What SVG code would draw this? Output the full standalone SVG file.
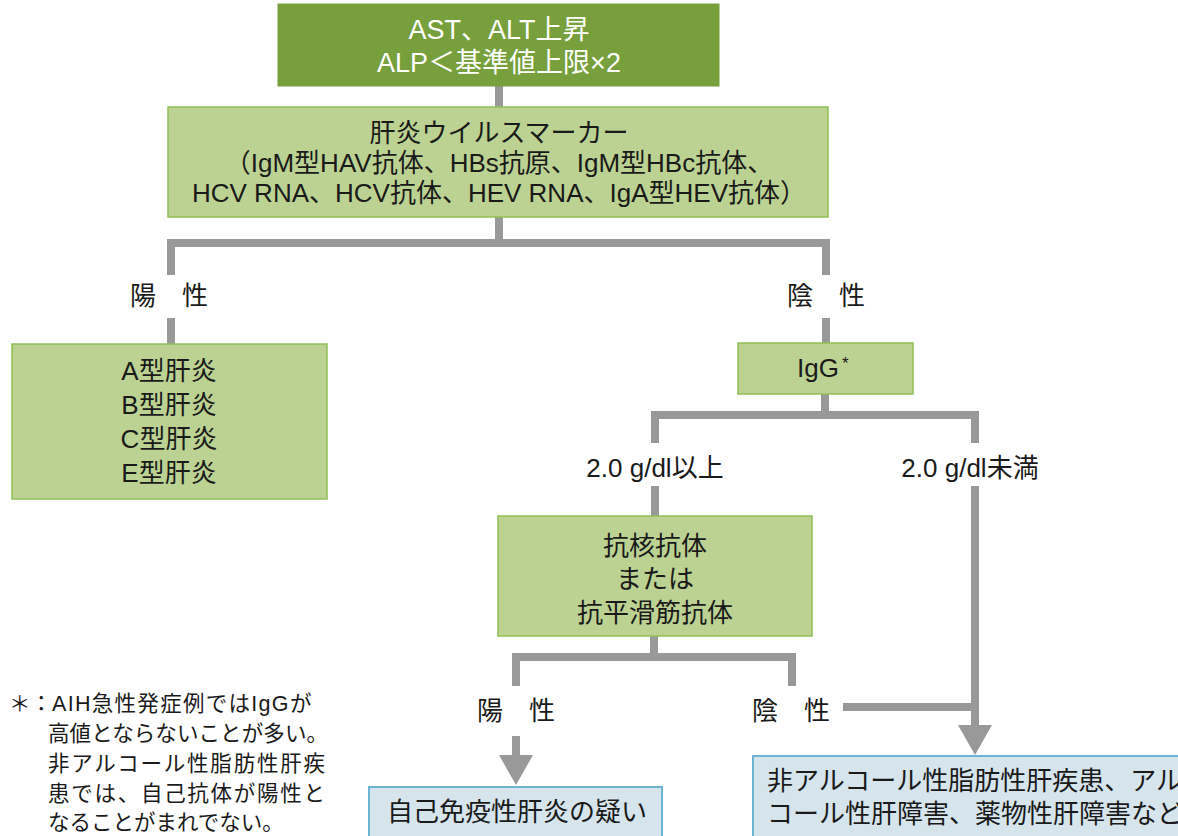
<svg xmlns="http://www.w3.org/2000/svg" width="1178" height="836" viewBox="0 0 1178 836">
<style>
text{font-family:"Liberation Sans","Noto Sans CJK JP",sans-serif;fill:#1a1a1a;font-size:26px}
.c{text-anchor:middle}
.w{fill:#ffffff;font-size:27px}
.dark{fill:#77A03C;stroke:#77A03C;stroke-width:1}
.lg{fill:#BCD293;stroke:#8FC056;stroke-width:1.5}
.lb{fill:#D6E4EC;stroke:#6DB3D3;stroke-width:2}
.ln{fill:none;stroke:#999999;stroke-width:8;stroke-linejoin:miter}
.fn{font-size:21.5px}
</style>
<defs>
<marker id="arr" markerUnits="userSpaceOnUse" markerWidth="30" markerHeight="34" viewBox="0 0 30 34" refX="0" refY="17" orient="auto">
<path d="M0,0 L30,17 L0,34 z" fill="#999999"/>
</marker>
</defs>
<rect width="1178" height="836" fill="#ffffff"/>
<g id="connectors">
<path class="ln" d="M499,86 V107"/>
<path class="ln" d="M499,217 V243"/>
<path class="ln" d="M171,275 V243 H826 V275"/>
<path class="ln" d="M171,318 V344"/>
<path class="ln" d="M826,318 V343"/>
<path class="ln" d="M825,394 V415"/>
<path class="ln" d="M655,443 V415 H975 V443"/>
<path class="ln" d="M655,486 V516"/>
<path class="ln" d="M975,486 V725" marker-end="url(#arr)"/>
<path class="ln" d="M654,636 V657"/>
<path class="ln" d="M516,686 V657 H792 V686"/>
<path class="ln" d="M516,736 V755" marker-end="url(#arr)"/>
<path class="ln" d="M843,707 H979"/>
<text class="c" x="169" y="305">陽　性</text>
<text class="c" x="826" y="305">陰　性</text>
<text class="c" x="655" y="477">2.0 g/dl以上</text>
<text class="c" x="970" y="477">2.0 g/dl未満</text>
<text class="c" x="516" y="720">陽　性</text>
<text class="c" x="791" y="720">陰　性</text>
</g>
<g id="n-start">
<rect class="dark" x="278" y="4" width="441" height="82"/>
<text class="c w" x="499" y="39">AST、ALT上昇</text>
<text class="c w" x="499" y="72">ALP＜基準値上限×2</text>
</g>
<g id="n-virus">
<rect class="lg" x="168" y="107" width="660" height="110"/>
<text class="c" x="499" y="142">肝炎ウイルスマーカー</text>
<text class="c" x="499" y="172">（IgM型HAV抗体、HBs抗原、IgM型HBc抗体、</text>
<text class="c" x="499" y="202">HCV RNA、HCV抗体、HEV RNA、IgA型HEV抗体）</text>
</g>
<g id="n-hep">
<rect class="lg" x="12" y="344" width="315" height="155"/>
<text class="c" x="169" y="380">A型肝炎</text>
<text class="c" x="169" y="414">B型肝炎</text>
<text class="c" x="169" y="448">C型肝炎</text>
<text class="c" x="169" y="482">E型肝炎</text>
</g>
<g id="n-igg">
<rect class="lg" x="738" y="343" width="175" height="51"/>
<text x="797" y="377">IgG<tspan font-size="17" dx="3" dy="-8">*</tspan></text>
</g>
<g id="n-ana">
<rect class="lg" x="498" y="516" width="314" height="120"/>
<text class="c" x="655" y="555">抗核抗体</text>
<text class="c" x="655" y="588">または</text>
<text class="c" x="655" y="622">抗平滑筋抗体</text>
</g>
<g id="n-aih">
<rect class="lb" x="369" y="787" width="293" height="60"/>
<text class="c" x="517" y="821">自己免疫性肝炎の疑い</text>
</g>
<g id="n-nafld">
<rect class="lb" x="753" y="756" width="440" height="100"/>
<text x="767" y="790">非アルコール性脂肪性肝疾患、アル</text>
<text x="767" y="823">コール性肝障害、薬物性肝障害など</text>
</g>
<g id="footnote">
<text class="fn" y="711"><tspan x="9">＊</tspan><tspan x="30.5">：</tspan><tspan x="52" letter-spacing="1.3">AIH急性発症例ではIgGが</tspan></text>
<text class="fn" x="48" y="741" textLength="280" lengthAdjust="spacing">高値とならないことが多い。</text>
<text class="fn" x="48" y="771" textLength="277" lengthAdjust="spacing">非アルコール性脂肪性肝疾</text>
<text class="fn" x="48" y="801" textLength="277" lengthAdjust="spacing">患では、自己抗体が陽性と</text>
<text class="fn" x="48" y="830">なることがまれでない。</text>
</g>
</svg>
